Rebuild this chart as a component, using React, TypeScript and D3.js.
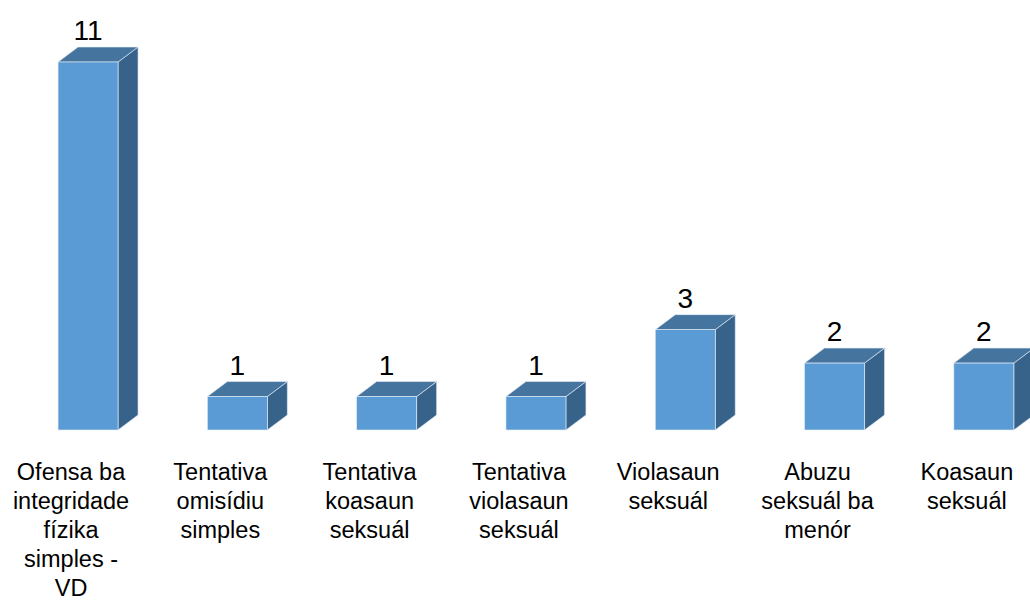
import React from "react";
import * as d3 from "d3";

const categories: string[][] = [
  ["Ofensa ba", "integridade", "fízika", "simples -", "VD"],
  ["Tentativa", "omisídiu", "simples"],
  ["Tentativa", "koasaun", "seksuál"],
  ["Tentativa", "violasaun", "seksuál"],
  ["Violasaun", "seksuál"],
  ["Abuzu", "seksuál ba", "menór"],
  ["Koasaun", "seksuál"],
];
const values: number[] = [11, 1, 1, 1, 3, 2, 2];

const W = 1030;
const H = 602;

export default function App() {
  const keys = categories.map((_, i) => String(i));
  const x = d3.scaleBand<string>().domain(keys).range([-3.6, 1041.5]).padding(0);
  const y = d3.scaleLinear().domain([0, 11]).range([430, 62]);
  const barW = 60;
  const dx = 20;
  const dy = 15;
  const front = "#5B9BD5";
  const top = "#45759F";
  const side = "#37628A";

  return (
    <svg
      width={W}
      height={H}
      style={{ position: "absolute", left: 0, top: 0, background: "#fff" }}
      fontFamily="'Liberation Sans', Arial, Helvetica, sans-serif"
    >
      {values.map((v, i) => {
        const c = (x(String(i)) as number) + x.bandwidth() / 2;
        const x0 = c - 13;
        const x1 = x0 + barW;
        const y0 = y(0);
        const yt = y(v);
        return (
          <g key={i}>
            <polygon
              points={`${x1},${yt} ${x1 + dx},${yt - dy} ${x1 + dx},${y0 - dy} ${x1},${y0}`}
              fill={side}
              stroke="#e8eef5"
              strokeWidth={0.6}
            />
            <polygon
              points={`${x0},${yt} ${x0 + dx},${yt - dy} ${x1 + dx},${yt - dy} ${x1},${yt}`}
              fill={top}
              stroke="#e8eef5"
              strokeWidth={0.6}
            />
            <rect x={x0} y={yt} width={barW} height={y0 - yt} fill={front} stroke="#e8eef5" strokeWidth={0.6} />
            <text x={x0 + barW / 2} y={yt - dy - 7} textAnchor="middle" fontSize={28} fill="#000">
              {v}
            </text>
            <text textAnchor="middle" fontSize={23.5} fill="#000">
              {categories[i].map((line, j) => (
                <tspan key={j} x={c} y={480 + j * 29}>
                  {line}
                </tspan>
              ))}
            </text>
          </g>
        );
      })}
    </svg>
  );
}
